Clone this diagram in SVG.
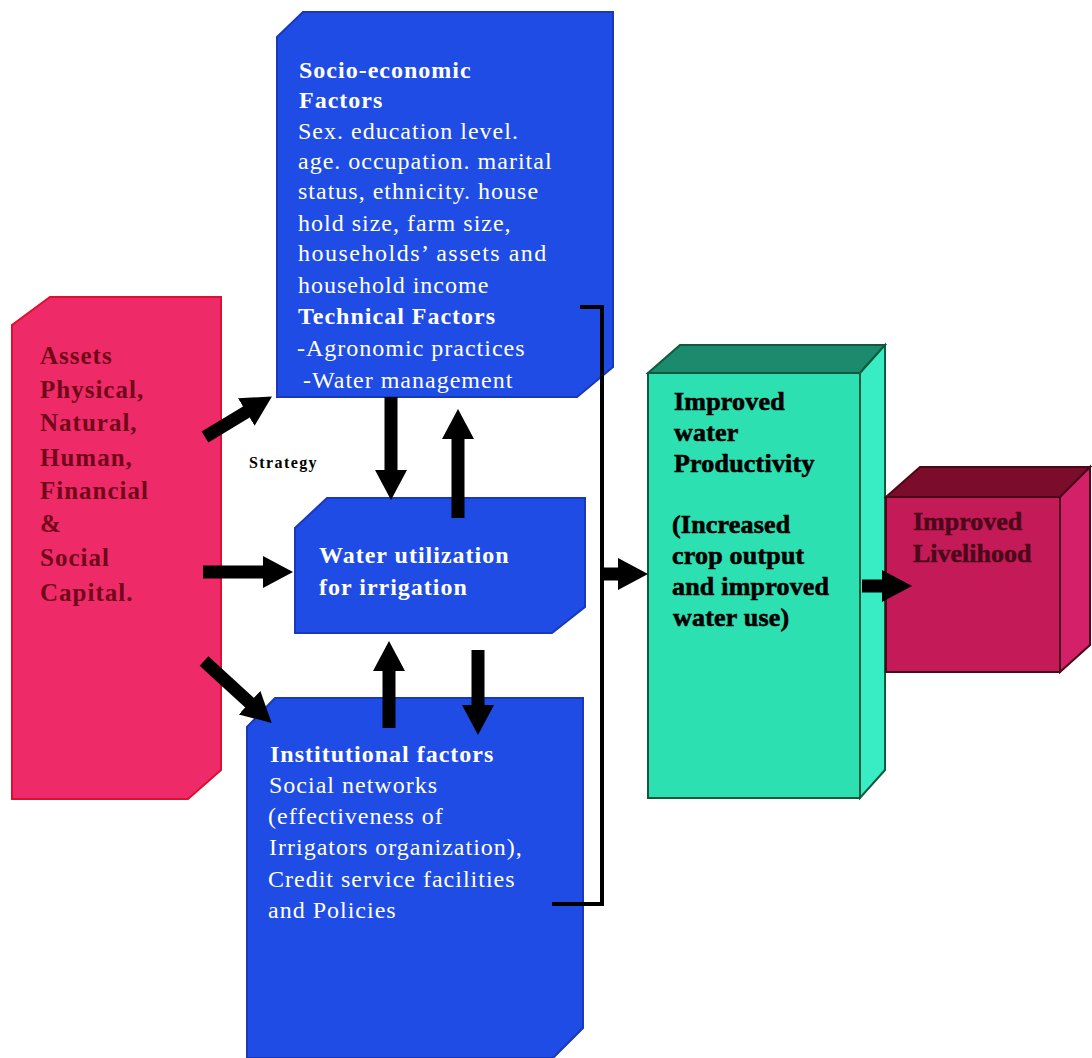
<svg xmlns="http://www.w3.org/2000/svg" width="1092" height="1058" viewBox="0 0 1092 1058">
<style>
.blue{fill:#1f4ce4;stroke:#1a38bc;stroke-width:2}
.wt{font-family:"Liberation Serif","Times New Roman",serif;font-size:24px;fill:#ffffff;letter-spacing:1px}
.wb{font-weight:bold}
.asset{font-family:"Liberation Serif","Times New Roman",serif;font-size:25px;font-weight:bold;fill:#700818;letter-spacing:1px}
.blk{font-family:"Liberation Serif","Times New Roman",serif;font-size:26px;font-weight:bold;fill:#000000;stroke:#000000;stroke-width:0.6;letter-spacing:0.2px}
.liv{font-family:"Liberation Serif","Times New Roman",serif;font-size:26px;font-weight:bold;fill:#4a0818;stroke:#4a0818;stroke-width:0.5}
.strat{font-family:"Liberation Serif","Times New Roman",serif;font-size:16px;font-weight:bold;fill:#000;letter-spacing:1.4px}
.arr{stroke:#000;stroke-width:13;fill:none;marker-end:url(#head)}
.brk{stroke:#000;stroke-width:4;fill:none}
</style>
<defs>
<marker id="head" markerUnits="userSpaceOnUse" markerWidth="32" markerHeight="34" refX="2" refY="17" orient="auto">
<path d="M0,1 L30,17 L0,33 Z" fill="#000"/>
</marker>
</defs>
<rect width="1092" height="1058" fill="#ffffff"/>

<g id="assets">
<polygon points="50,297 221,297 221,770 188,799 12,799 12,325" fill="#ef2a69" stroke="#dc1030" stroke-width="2"/>
<text class="asset" x="40" y="364">Assets</text>
<text class="asset" x="40" y="398">Physical,</text>
<text class="asset" x="40" y="431">Natural,</text>
<text class="asset" x="40" y="466">Human,</text>
<text class="asset" x="40" y="499">Financial</text>
<text class="asset" x="40" y="532">&amp;</text>
<text class="asset" x="40" y="566">Social</text>
<text class="asset" x="40" y="601">Capital.</text>
</g>

<g id="socio">
<polygon class="blue" points="303,12 613,12 613,367 577,397 277,397 277,37"/>
<text class="wt wb" x="299" y="78">Socio-economic</text>
<text class="wt wb" x="299" y="108">Factors</text>
<text class="wt" x="298" y="139">Sex. education level.</text>
<text class="wt" x="298" y="169">age. occupation. marital</text>
<text class="wt" x="298" y="199">status, ethnicity. house</text>
<text class="wt" x="298" y="231">hold size, farm size,</text>
<text class="wt" x="298" y="261" style="letter-spacing:1.5px">households’ assets and</text>
<text class="wt" x="298" y="293">household income</text>
<text class="wt wb" x="298" y="324">Technical Factors</text>
<text class="wt" x="297" y="356">-Agronomic practices</text>
<text class="wt" x="303" y="388">-Water management</text>
</g>

<g id="strategy">
<text class="strat" x="249" y="468">Strategy</text>
</g>

<g id="water">
<polygon class="blue" points="327,498 585,498 585,607 552,633 295,633 295,528"/>
<text class="wt wb" x="319" y="563">Water utilization</text>
<text class="wt wb" x="319" y="595">for irrigation</text>
</g>

<g id="institutional">
<polygon class="blue" points="275,698 583,698 583,1028 553,1058 247,1058 247,727"/>
<text class="wt wb" x="270" y="762">Institutional factors</text>
<text class="wt" x="269" y="793">Social networks</text>
<text class="wt" x="268" y="824">(effectiveness of</text>
<text class="wt" x="269" y="855">Irrigators organization),</text>
<text class="wt" x="268" y="887">Credit service facilities</text>
<text class="wt" x="268" y="918">and Policies</text>
</g>

<g id="productivity">
<polygon points="648,373 680,345 885,345 860,373" fill="#1c8a6c" stroke="#0e5a3c" stroke-width="2"/>
<polygon points="860,373 885,345 885,770 860,798" fill="#38edc4" stroke="#0e5a3c" stroke-width="2"/>
<polygon points="648,373 860,373 860,798 648,798" fill="#2de0b2" stroke="#0e5a3c" stroke-width="2"/>
<text class="blk" x="674" y="410">Improved</text>
<text class="blk" x="674" y="441">water</text>
<text class="blk" x="674" y="472">Productivity</text>
<text class="blk" x="672" y="533">(Increased</text>
<text class="blk" x="672" y="564">crop output</text>
<text class="blk" x="672" y="595">and improved</text>
<text class="blk" x="673" y="626">water use)</text>
</g>

<g id="livelihood">
<polygon points="886,497 920,467 1090,467 1060,497" fill="#7c0c2c" stroke="#4a0818" stroke-width="2"/>
<polygon points="1060,497 1090,467 1090,645 1060,672" fill="#d42068" stroke="#4a0818" stroke-width="2"/>
<polygon points="886,497 1060,497 1060,672 886,672" fill="#c41a58" stroke="#4a0818" stroke-width="2"/>
<text class="liv" x="913" y="530">Improved</text>
<text class="liv" x="913" y="562">Livelihood</text>
</g>

<g id="connectors">
<line class="arr" x1="205" y1="437" x2="248" y2="411"/>
<line class="arr" x1="203" y1="572" x2="265" y2="572"/>
<line class="arr" x1="204" y1="661" x2="251" y2="704"/>
<line class="arr" x1="391" y1="397" x2="391" y2="472"/>
<line class="arr" x1="458" y1="518" x2="458" y2="437"/>
<line class="arr" x1="389" y1="728" x2="389" y2="669"/>
<line class="arr" x1="478" y1="650" x2="478" y2="707"/>
<polyline class="brk" points="580,307 602,307 602,904 552,904"/>
<line class="arr" x1="601" y1="574" x2="620" y2="574"/>
<line class="arr" x1="862" y1="586" x2="884" y2="586"/>
</g>
</svg>
